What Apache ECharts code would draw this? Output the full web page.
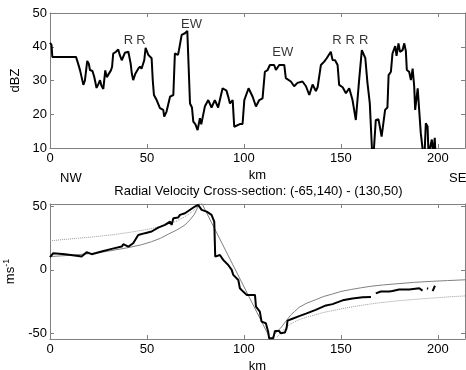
<!DOCTYPE html>
<html>
<head>
<meta charset="utf-8">
<script src="https://cdn.jsdelivr.net/npm/echarts@6/dist/echarts.min.js"></script>
<style>
  html, body { margin: 0; padding: 0; background: #fff; }
  #chart { width: 466px; height: 370px; }
</style>
</head>
<body>
<div id="chart"></div>
<script>
// reflectivity along the cross-section (km, dBZ)
const dbzKm = [0, 0.8, 1.2, 13.4, 14.5, 15.5, 16.3, 17.2, 18, 19.2, 20, 20.6, 21.9, 22.8, 24, 25, 25.8, 26.5, 27.5, 28.5,
  29.3, 30, 31.4, 32, 32.6, 34, 35.2, 36, 37, 38.6, 40.4, 41.6, 42.2, 42.9, 44, 44.6, 45.5, 46.4, 47.2, 48.1,
  48.6, 49.3, 50.7, 52.4, 53, 53.6, 55, 56.7, 58.4, 58.9, 60.1, 61.9, 63.6, 64.4, 66, 66.5, 67.9, 69.6, 70.8, 71.8,
  72.2, 73.2, 73.9, 75, 76.1, 77.3, 78, 79, 79.9, 81.6, 83.3, 85, 86.7, 89, 91, 92, 92.8, 94.2, 95, 97.9,
  99.3, 100.2, 102.4, 104.5, 106.2, 107.9, 109.6, 110.8, 112.2, 113.4, 114.5, 115.6, 116.5, 118.2, 120.8, 121.6, 124.2, 125.9, 127.6, 130.2,
  132, 133.7, 135.4, 137.1, 138, 139.7, 141.4, 142.7, 144.8, 145.7, 147, 148.3, 149.1, 150.9, 152.6, 154.3, 156, 157.7, 159.4, 160.8,
  162.6, 163.7, 164.9, 166, 166.5, 167.5, 168, 169.4, 171, 172.8, 174, 174.6, 175.8, 176.6, 178, 178.7, 179.7, 180.5, 181.8, 182.7,
  183.5, 184, 185.2, 186.1, 187, 187.8, 188.3, 189.6, 190.5, 191.2, 192, 192.9, 193.8, 194.7, 195.2, 196.9, 197.6, 198.4, 199];
const dbzVal = [41.2, 40.5, 37, 37, 35, 33, 31, 28.7, 30, 35.8, 35, 33.1, 32.8, 31.1, 27.8, 29, 30.1, 28.5, 27.5, 33,
  31, 31, 33, 34, 38, 38.5, 39.2, 37.5, 36, 38.2, 38.5, 35, 32, 30.1, 32, 32.6, 33.5, 34.1, 33.5, 33.1,
  36, 39.7, 37.6, 36.6, 30, 25.7, 24.2, 21.8, 21.3, 19.3, 20.8, 25.2, 25.7, 38, 37.6, 39, 43.5, 44, 44.7, 45,
  23.2, 22, 17.8, 17, 15.3, 18.8, 17, 17, 22.4, 24.2, 22, 24.2, 22, 27.7, 27, 25, 23.2, 24.2, 16.3, 17.1,
  17.1, 24.2, 27.7, 25.2, 22.3, 24.2, 24.7, 32.6, 33.1, 34.6, 34.6, 34.6, 33.1, 34.6, 34.6, 30.7, 29.7, 28.3, 29.3, 29.7,
  28.3, 25.7, 28.8, 26.9, 28, 34.6, 35.6, 36.6, 38.5, 36.1, 36, 34.6, 28.7, 28, 26.2, 27.7, 24.2, 18.3, 30.1, 39,
  36.6, 29.3, 23.3, 10, 5, 5, 18.3, 18.5, 13.4, 21.3, 22, 31.6, 32.6, 38, 40.2, 37.3, 41, 38.5, 39, 41,
  38.7, 33.1, 32.6, 30.1, 33.5, 28.3, 21.3, 27.7, 27.3, 14.4, 10.4, 5, 17.3, 16.4, 8, 12.5, 8, 13, 5];

// feature labels (km, dBZ)
const noteText = ['R', 'R', 'EW', 'EW', 'R', 'R', 'R'];
const noteKm = [40.4, 46.9, 73, 120, 148, 154.8, 161.7];
const noteDbz = [42, 42, 46.7, 38.2, 42, 42, 42];

// observed radial velocity (m/s), null = gap
const velKm = [0, 1.7, 7.7, 14.6, 16.3, 18.9, 21.5, 26.6, 31.8, 37, 37.8, 40.4, 42.9, 45.5, 49, 52.4, 55.8, 59.3, 61.9, 62.7,
  63.6, 66.1, 67, 69.6, 70.4, 74.7, 75.6, 76.4, 78.2, 80.8, 83.3, 84.7, 85.2, 87.6, 88.5, 89.3, 91.9, 93.7, 94.5, 97.1,
  97.9, 99.6, 101.4, 105.7, 106.2, 108.2, 109.1, 111.3, 112.5, 113, 115.1, 116, 118.2, 118.9, 121.1, 122, 122.5, 125, 128.5, 132,
  137, 142.3, 145.7, 150.9, 156, 161.2, 165.5, 166.5, 168, 170.6, 174.9, 176.6, 180, 185.2, 190.4, 192.1, 193, 194.4, 195, 196,
  197.3, 198.5];
const velObs = [10, 13.2, 12.4, 11, 10.5, 14, 12.4, 14.5, 16.6, 18.4, 20.3, 18.4, 21, 27.6, 29, 30.3, 33.4, 35.5, 38.1, 35.5,
  40.8, 41.3, 43.4, 44.7, 46, 50, 51.3, 51.3, 47.4, 46, 43.4, 38.1, 10.5, 11.8, 12.6, 7.9, 3.9, 0, -3.9, -7.9,
  -14.5, -17.1, -19.7, -19.7, -29, -32.9, -40.8, -42.1, -48.7, -54, -54, -48.1, -48.1, -50, -49.4, -46, -40, -38.5, -36.5, -34.5,
  -31.5, -28, -27, -24, -22.5, -21.5, -21.3, null, -18.5, -17, -17, -16.6, -15.5, -15.5, -14.5, -16.3, null, -14.5, -14.8, null,
  -16.8, -12.5];

// model profile (thin grey)
const modelKm = [0, 10, 23.2, 30, 40.4, 47, 52.4, 57, 61, 65, 67, 69.6, 72.2, 74.5, 76.4, 77.8, 113.8, 115.5, 117, 119,
  121.6, 124.2, 126, 128.5, 132, 137, 141, 145.7, 150, 155, 160, 165, 172, 180, 188, 197, 205, 214];
const modelVel = [10.5, 11.5, 13.2, 14.8, 17.6, 19.8, 22.3, 25, 28.2, 31.2, 32.9, 35.5, 39.5, 44, 50, 54, -55, -51.5, -48.5, -45.8,
  -40.5, -35.5, -33, -29.5, -26.5, -23.5, -21, -19, -17, -15.5, -14.2, -13, -11.8, -10.8, -9.8, -9, -8.4, -7.8];

// second profile (dotted grey)
const dotKm = [0, 7, 14.6, 23, 31.8, 40, 49, 55, 61, 65.5, 69.6, 72, 74, 77, 78, 117, 119, 121, 123.4, 126,
  128.5, 132.5, 137.1, 141, 145.7, 152, 158, 162.9, 170, 180, 190, 197.3, 205, 214];
const dotVel = [22.9, 24, 25, 26.2, 27.6, 29.4, 31.6, 33.5, 36, 38.7, 42, 44.5, 47, 51, null, -53, -49.7, -46.5, -43.2, -41,
  -39.2, -37.2, -35.3, -33.6, -32.1, -30.2, -28.6, -27.4, -25.9, -24.3, -23, -22.2, -21.3, -20.5];

const xTicks = [0, 50, 100, 150, 200];
const dbzTicks = [10, 20, 30, 40, 50];
const velTicks = [-50, 0, 50];

const pairs = (xs, ys) => xs.map((x, i) => [x, ys[i] == null ? '-' : ys[i]]);

const FONT = 'Liberation Sans, Arial, sans-serif';
const GREY = '#808080';

const chart = echarts.init(document.getElementById('chart'), null, { renderer: 'canvas' });

function xAx(grid, pos, labels, name) {
  return {
    type: 'value', gridIndex: grid, position: pos, min: 0, max: 214,
    name: name || '', nameLocation: 'middle', nameGap: 21,
    nameTextStyle: { color: '#000', fontSize: 13, fontFamily: FONT },
    axisLine: { show: true, onZero: false, lineStyle: { color: GREY, width: 1 } },
    axisTick: { show: true, inside: true, length: 4, customValues: xTicks, lineStyle: { color: GREY } },
    axisLabel: { show: labels, customValues: xTicks, color: '#000', fontSize: 13, fontFamily: FONT, margin: 4 },
    splitLine: { show: false }
  };
}

function yAx(grid, pos, min, max, ticks, labels, name) {
  return {
    type: 'value', gridIndex: grid, position: pos, min: min, max: max,
    name: name || '', nameLocation: 'middle', nameRotate: 90, nameGap: 24,
    nameTextStyle: {
      color: '#000', fontSize: 13, fontFamily: FONT,
      rich: {
        a: { fontSize: 13, fontFamily: FONT, color: '#000' },
        b: { fontSize: 9, fontFamily: FONT, color: '#000', padding: [0, 0, 9, 0] }
      }
    },
    axisLine: { show: true, onZero: false, lineStyle: { color: GREY, width: 1 } },
    axisTick: { show: true, inside: true, length: 4, customValues: ticks, lineStyle: { color: GREY } },
    axisLabel: { show: labels, customValues: ticks, color: '#000', fontSize: 13, fontFamily: FONT, margin: 3 },
    splitLine: { show: false }
  };
}

chart.setOption({
  animation: false,
  backgroundColor: '#fff',
  grid: [
    { left: 50, top: 13, width: 415, height: 135, outerBoundsMode: 'none', containLabel: false },
    { left: 50, top: 204, width: 415, height: 135, outerBoundsMode: 'none', containLabel: false }
  ],
  xAxis: [
    xAx(0, 'bottom', true, 'km'),
    xAx(0, 'top', false),
    xAx(1, 'bottom', true, 'km'),
    xAx(1, 'top', false)
  ],
  yAxis: [
    yAx(0, 'left', 10, 50, dbzTicks, true, 'dBZ'),
    yAx(0, 'right', 10, 50, dbzTicks, false),
    yAx(1, 'left', -54.5, 52, velTicks, true, '{a|ms}{b|-1}'),
    yAx(1, 'right', -54.5, 52, velTicks, false)
  ],
  graphic: [
    { type: 'text', left: 60, top: 172, style: { text: 'NW', font: '13px ' + FONT, fill: '#000' } },
    { type: 'text', left: 449, top: 172, style: { text: 'SE', font: '13px ' + FONT, fill: '#000' } },
    { type: 'text', x: 258.5, y: 185, style: { text: 'Radial Velocity Cross-section: (-65,140) - (130,50)', font: '13px ' + FONT, fill: '#000', align: 'center' } }
  ],
  series: [
    {
      type: 'line', xAxisIndex: 0, yAxisIndex: 0, data: pairs(dbzKm, dbzVal),
      showSymbol: false, clip: true, lineStyle: { color: '#000', width: 2 }
    },
    {
      type: 'scatter', xAxisIndex: 0, yAxisIndex: 0, symbolSize: 0,
      data: noteKm.map((k, i) => ({ value: [k, noteDbz[i]], name: noteText[i] })),
      label: { show: true, position: 'inside', formatter: '{b}', color: '#000', fontSize: 13, fontFamily: FONT }
    },
    {
      type: 'line', xAxisIndex: 2, yAxisIndex: 2, data: pairs(dotKm, dotVel),
      showSymbol: false, clip: true,
      lineStyle: { color: '#999', width: 1, type: 'dotted' }
    },
    {
      type: 'line', xAxisIndex: 2, yAxisIndex: 2, data: pairs(modelKm, modelVel),
      showSymbol: false, clip: true,
      lineStyle: { color: GREY, width: 1 }
    },
    {
      type: 'line', xAxisIndex: 2, yAxisIndex: 2, data: pairs(velKm, velObs),
      showSymbol: false, clip: true, connectNulls: false,
      lineStyle: { color: '#000', width: 2 }
    }
  ]
});
</script>
</body>
</html>
